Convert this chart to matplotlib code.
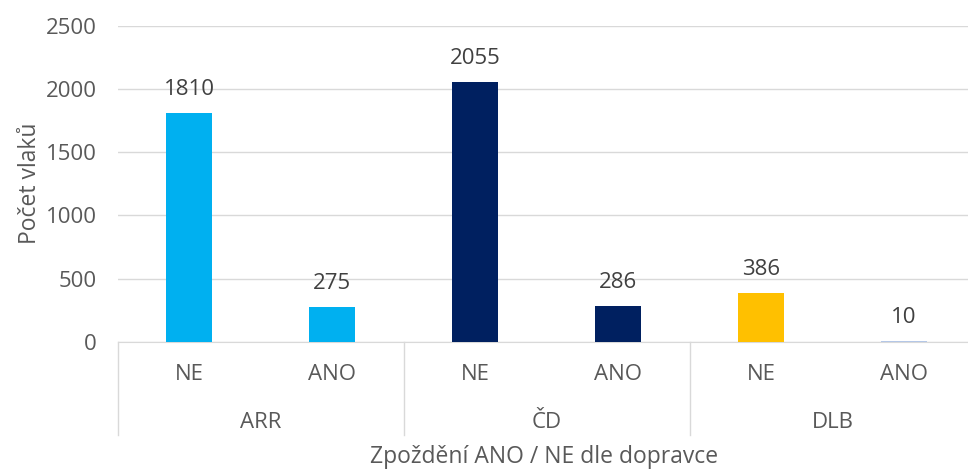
import matplotlib.pyplot as plt
import matplotlib.transforms as mtransforms

# data
carriers = ["ARR", "ČD", "DLB"]
delay_labels = ["NE", "ANO"]
counts = [1810, 275, 2055, 286, 386, 10]
bar_colors = ["#00B0F0", "#00B0F0", "#002060", "#002060", "#FFC000", "#B4C7E7"]
y_ticks = [0, 500, 1000, 1500, 2000, 2500]

plt.rcParams['font.family'] = ['Open Sans', 'DejaVu Sans']
txt = "#595959"
fs = 16

fig = plt.figure(figsize=(9.68, 4.72), dpi=100)
W, H = 968, 472
left, right, y0, ytop = 117.5, 975.5, 342, 25.7
ax = fig.add_axes([left / W, (H - y0) / H, (right - left) / W, (y0 - ytop) / H])
ax_h = y0 - ytop  # axes height in px

x = list(range(len(counts)))
ax.bar(x, counts, width=0.32, color=bar_colors, zorder=3)
for xi, v in zip(x, counts):
    ax.annotate(str(v), (xi, v), xytext=(0, 17), textcoords="offset points",
                ha="center", va="center", fontsize=fs, color="#404040")

ax.set_xlim(-0.5, len(counts) - 0.5)
ax.set_ylim(0, 2500)
ax.set_yticks(y_ticks)
ax.tick_params(axis="y", length=0, labelsize=fs, labelcolor=txt, pad=15)
ax.grid(axis="y", color="#D9D9D9", linewidth=1, zorder=0)
for s in ["top", "right", "left"]:
    ax.spines[s].set_visible(False)
ax.spines["bottom"].set_color("#D9D9D9")
ax.set_xticks([])

trans = mtransforms.blended_transform_factory(ax.transData, ax.transAxes)
for xi, lab in zip(x, delay_labels * len(carriers)):
    ax.text(xi, -33 / ax_h, lab, transform=trans, ha="center", va="center",
            fontsize=fs, color=txt)
for i, name in enumerate(carriers):
    ax.text(2 * i + 0.5, -80 / ax_h, name, transform=trans, ha="center", va="center",
            fontsize=fs, color=txt)
for b in range(len(carriers) + 1):
    ax.plot([2 * b - 0.5, 2 * b - 0.5], [0, -93 / ax_h], transform=trans,
            color="#D9D9D9", linewidth=1, clip_on=False)

fig.text(544 / W, 1 - 457 / H, "Zpoždění ANO / NE dle dopravce", ha="center", va="center",
         fontsize=16.5, color=txt)
fig.text(30 / W, 1 - 183 / H, "Počet vlaků", rotation=90, ha="center", va="center",
         fontsize=16.5, color=txt)

fig.savefig("out.png", dpi=100)
